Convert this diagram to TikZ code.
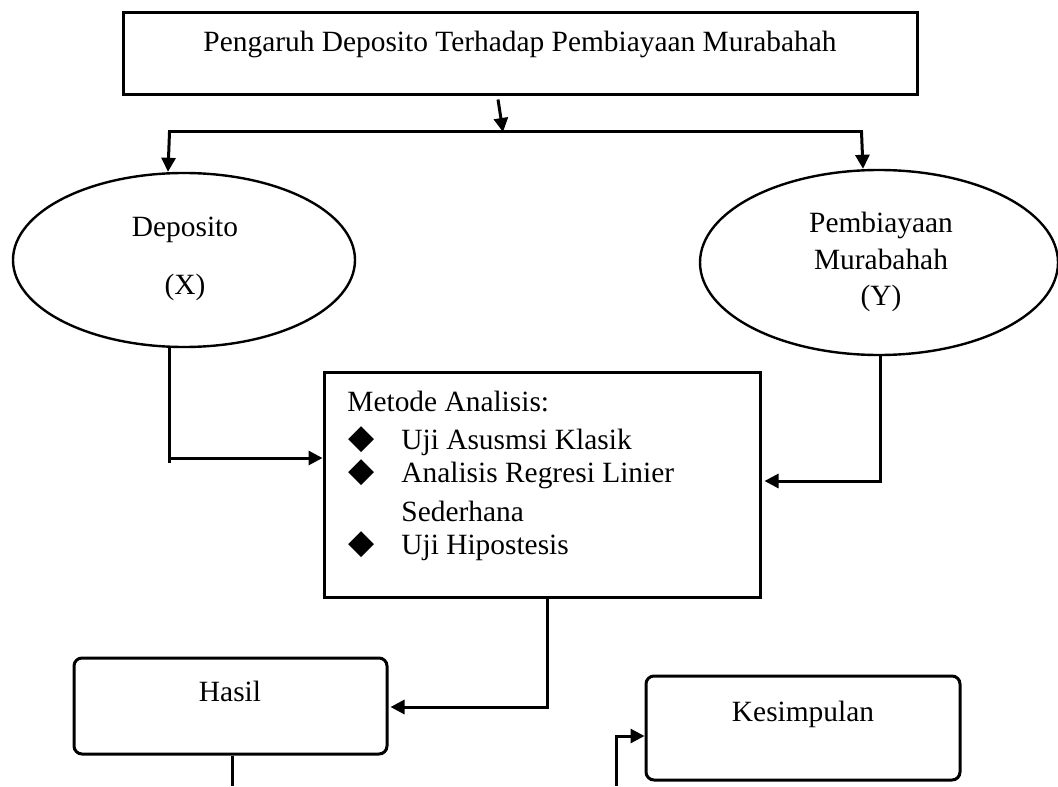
\documentclass[tikz,border=0pt]{standalone}
\usepackage{fontspec}
\setmainfont{Liberation Serif}
\newfontfamily\symfont{DejaVu Sans}
\usetikzlibrary{shapes.geometric,arrows.meta,calc}
\tikzset{
  boxsq/.style={draw,line width=1.5pt,inner sep=0pt},
  boxrd/.style={draw,line width=1.5pt,inner sep=0pt,rounded corners=4pt},
  ell/.style={draw,ellipse,line width=1.2pt,inner sep=0pt},
  txt/.style={inner sep=0pt,anchor=base,font=\fontsize{14.7}{17}\selectfont},
  txtw/.style={inner sep=0pt,anchor=base west,font=\fontsize{14.7}{17}\selectfont},
  bul/.style={inner sep=0pt,anchor=center,font=\symfont\fontsize{17}{18}\selectfont},
  conn/.style={line width=1.5pt},
  arr/.style={line width=1.5pt,-{Triangle[length=7pt,width=7pt]}},
}
\begin{document}
\begin{tikzpicture}[x=0.5pt,y=-0.5pt]
\useasboundingbox (0,0) rectangle (1058,786);
% nodes
\node[boxsq,minimum width=397pt,minimum height=41pt] (top) at (520,54) {};
\node[txt] (toptxt) at (520,52) {Pengaruh Deposito Terhadap Pembiayaan Murabahah};
\node[ell,minimum width=171pt,minimum height=87pt] (dep) at (184,260) {};
\node[txt] (deptxt1) at (185,236) {Deposito};
\node[txt] (deptxt2) at (185,294) {(X)};
\node[ell,minimum width=179pt,minimum height=92.5pt] (pem) at (879,262.5) {};
\node[txt] (pemtxt1) at (881,232) {Pembiayaan};
\node[txt] (pemtxt2) at (881,269) {Murabahah};
\node[txt] (pemtxt3) at (881,305) {(Y)};
\node[boxsq,minimum width=218pt,minimum height=112.5pt] (mid) at (542,484.5) {};
\node[txtw] (m0) at (347,411) {Metode Analisis:};
\node[bul] (b1) at (362,440) {◆};
\node[bul] (b2) at (362,473) {◆};
\node[bul] (b3) at (362,545) {◆};
\node[txtw] (m1) at (401,449) {Uji Asusmsi Klasik};
\node[txtw] (m2) at (401,482) {Analisis Regresi Linier};
\node[txtw] (m3) at (401,521) {Sederhana};
\node[txtw] (m4) at (401,554) {Uji Hipostesis};
\node[boxrd,minimum width=156.5pt,minimum height=48pt] (hasil) at (230.5,706) {};
\node[txt] (hasiltxt) at (230,701) {Hasil};
\node[boxrd,minimum width=157pt,minimum height=52pt] (kes) at (803,728) {};
\node[txt] (kestxt) at (803,721) {Kesimpulan};
% junction coordinates
\coordinate (j) at (503,132);
\coordinate (jl) at (168,132);
\coordinate (jr) at (863,132);
\coordinate (hb) at (232,786);
\coordinate (kb) at (616,786);
% connectors
\draw[arr] ($(top.south)+(-22,3)$) -- (j);
\draw[conn] (jl) -- (jr);
\draw[arr] ([xshift=0.75pt]jl) -- (jl |- dep.north);
\draw[arr] ([xshift=-0.75pt]jr) -- (jr |- pem.north);
\draw[arr] ($(dep.south)+(-15,-1)$) |- ($(mid.west)+(0,-26.5)$);
\draw[conn] ($(dep.south)+(-15,-1)$) -- ($(dep.south)+(-15,115)$);
\draw[arr] ($(pem.south)+(1,0)$) |- ($(mid.east)+(3,-3.5)$);
\draw[arr] ($(mid.south)+(5,0)$) |- ($(hasil.east)+(2,1)$);
\draw[conn] ($(hasil.south)+(1.5,0)$) -- (hb);
\draw[arr] (kb) |- ($(kes.west)+(0,8)$);
\end{tikzpicture}
\end{document}
